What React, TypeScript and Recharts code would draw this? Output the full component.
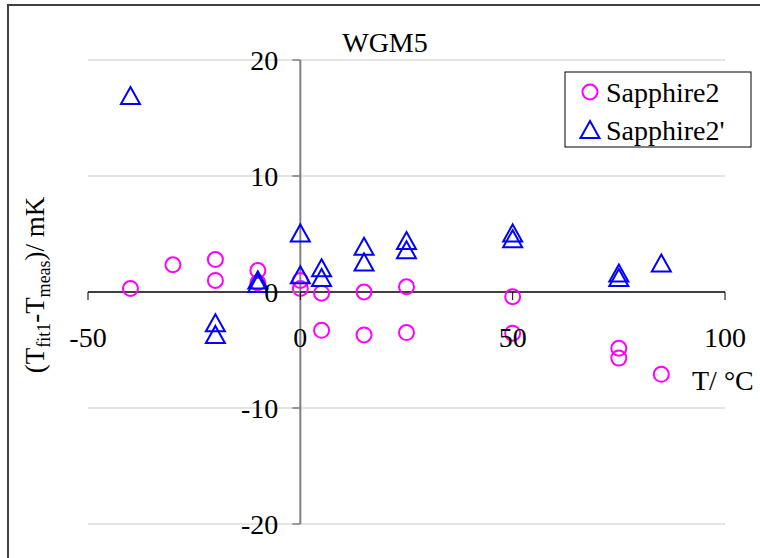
import {
  ScatterChart,
  Scatter,
  XAxis,
  YAxis,
  ReferenceLine,
  ReferenceDot,
} from "recharts";

const title = "WGM5";
const seriesNames = ["Sapphire2", "Sapphire2'"];

// Sapphire2 (circles)
const tempA = [-40, -30, -20, -20, -10, -10, 0, 0, 5, 5, 15, 15, 25, 25, 50, 50, 75, 75, 85];
const devA = [0.3, 2.35, 2.8, 1.0, 1.85, 0.8, 1.0, 0.3, -0.1, -3.3, 0.0, -3.7, 0.45, -3.5, -0.4, -3.55, -4.85, -5.7, -7.1];

// Sapphire2' (triangles)
const tempB = [-40, -20, -20, -10, -10, 0, 0, 5, 5, 15, 15, 25, 25, 50, 50, 75, 75, 85];
const devB = [16.9, -2.7, -3.7, 1.0, 0.7, 5.05, 1.45, 2.05, 1.2, 3.9, 2.55, 4.4, 3.6, 5.05, 4.55, 1.6, 1.2, 2.45];

const xTicks = [-50, 0, 50, 100];
const yTicks = [-20, -10, 10, 20];
const yTickLabels = [-20, -10, 0, 10, 20];

const dataA = tempA.map((x, i) => ({ x, y: devA[i] }));
const dataB = tempB.map((x, i) => ({ x, y: devB[i] }));

const FONT = "Liberation Serif, Times New Roman, DejaVu Serif, serif";
const MAGENTA = "#FF00FF";
const BLUE = "#0000FF";
const txt = { fontFamily: FONT };

const Circle = (p: any) => (
  <circle cx={p.cx} cy={p.cy} r={7.5} fill="none" stroke={MAGENTA} strokeWidth={2} />
);

const Triangle = (p: any) => (
  <path
    d={`M${p.cx},${p.cy - 9} L${p.cx + 9.5},${p.cy + 8} L${p.cx - 9.5},${p.cy + 8} Z`}
    fill="none"
    stroke={BLUE}
    strokeWidth={2}
  />
);

const XTick = (label: number) => (p: any) => (
  <g>
    <line x1={p.cx} y1={p.cy} x2={p.cx} y2={p.cy + 8} stroke="#000" strokeWidth={1} />
    <text x={p.cx} y={p.cy + 55} textAnchor="middle" style={txt} fontSize={28} fill="#000">
      {label}
    </text>
  </g>
);

const YTick = (label: number) => (p: any) => (
  <g>
    <line x1={p.cx - 8} y1={p.cy} x2={p.cx} y2={p.cy} stroke="#808080" strokeWidth={1.5} />
    <text x={p.cx - 22} y={p.cy + 10} textAnchor="end" style={txt} fontSize={28} fill="#000">
      {label}
    </text>
  </g>
);

export default function App() {
  return (
    <div style={{ position: "absolute", left: 0, top: 0, width: 760, height: 558, background: "#fff" }}>
      <div
        style={{
          position: "absolute",
          left: 7,
          top: 4,
          width: 780,
          height: 600,
          border: "2px solid #404040",
        }}
      />
      <ScatterChart
        width={760}
        height={558}
        margin={{ top: 60, right: 35, bottom: 34, left: 88 }}
        style={{ position: "absolute", left: 0, top: 0 }}
      >
        <XAxis type="number" dataKey="x" domain={[-50, 100]} hide />
        <YAxis type="number" dataKey="y" domain={[-20, 20]} hide />
        {yTicks.map((v) => (
          <ReferenceLine key={"g" + v} y={v} stroke="#c8c8c8" strokeWidth={1} />
        ))}
        <ReferenceLine x={0} stroke="#808080" strokeWidth={2} />
        <ReferenceLine y={0} stroke="#000" strokeWidth={1.5} />
        <Scatter name={seriesNames[0]} data={dataA} shape={Circle} isAnimationActive={false} />
        <Scatter name={seriesNames[1]} data={dataB} shape={Triangle} isAnimationActive={false} />
        {xTicks.map((v) => (
          <ReferenceDot key={"x" + v} x={v} y={0} r={0} shape={XTick(v)} />
        ))}
        {yTickLabels.map((v) => (
          <ReferenceDot key={"y" + v} x={0} y={v} r={0} shape={YTick(v)} />
        ))}
      </ScatterChart>
      <svg
        width={760}
        height={558}
        style={{ position: "absolute", left: 0, top: 0, pointerEvents: "none", fontFamily: FONT }}
      >
        <text x={385} y={52} textAnchor="middle" fontSize={28}>
          {title}
        </text>
        <text x={692} y={390} fontSize={28}>
          T/ °C
        </text>
        <text transform="translate(44,285) rotate(-90)" textAnchor="middle" fontSize={27}>
          (T
          <tspan fontSize={18} dy={6}>fit1</tspan>
          <tspan dy={-6}>-T</tspan>
          <tspan fontSize={18} dy={6}>meas</tspan>
          <tspan dy={-6}>)/ mK</tspan>
        </text>
        <rect x={565} y={72} width={186} height={75} fill="#fff" stroke="#000" strokeWidth={1} />
        <circle cx={590} cy={92} r={7.5} fill="none" stroke={MAGENTA} strokeWidth={2} />
        <text x={606} y={102} fontSize={28}>
          {seriesNames[0]}
        </text>
        <path d="M590,121 L599.5,138 L580.5,138 Z" fill="none" stroke={BLUE} strokeWidth={2} />
        <text x={606} y={140} fontSize={28}>
          {seriesNames[1]}
        </text>
      </svg>
    </div>
  );
}
